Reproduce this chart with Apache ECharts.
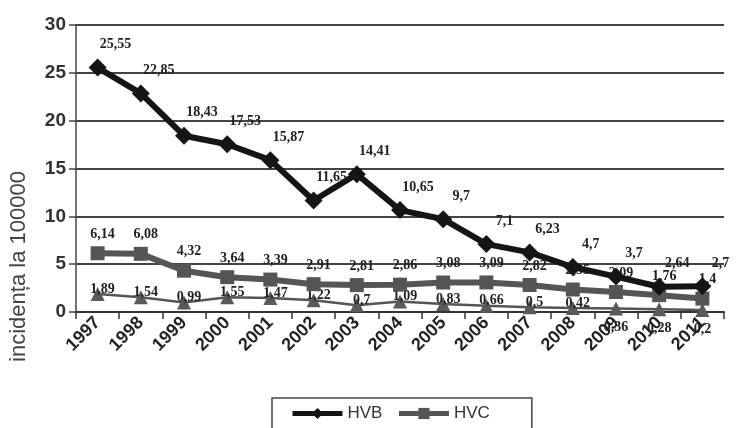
<!DOCTYPE html>
<html>
<head>
<meta charset="utf-8">
<script src="https://cdn.jsdelivr.net/npm/echarts@6/dist/echarts.min.js"></script>
<style>
html,body{margin:0;padding:0;background:#fff;}
#chart{width:737px;height:428px;}
</style>
</head>
<body>
<div id="chart"></div>
<script>
var years = ['1997','1998','1999','2000','2001','2002','2003','2004','2005','2006','2007','2008','2009','2010','2011'];
var hvb = [25.55, 22.85, 18.43, 17.53, 15.87, 11.65, 14.41, 10.65, 9.7, 7.1, 6.23, 4.7, 3.7, 2.64, 2.7];
var hvc = [6.14, 6.08, 4.32, 3.64, 3.39, 2.91, 2.81, 2.86, 3.08, 3.09, 2.82, 2.35, 2.09, 1.76, 1.4];
var hvd = [1.89, 1.54, 0.99, 1.55, 1.47, 1.22, 0.7, 1.09, 0.83, 0.66, 0.5, 0.42, 0.36, 0.28, 0.2];
var yTicks = [0, 5, 10, 15, 20, 25, 30];

function fmt(p){ return String(p.value).replace('.', ','); }
var labelFont = {fontFamily:'Liberation Serif', fontWeight:'bold', fontSize:14, color:'#222'};

var chart = echarts.init(document.getElementById('chart'));
chart.setOption({
  backgroundColor:'#fff',
  animation:false,
  grid:{left:70, right:13, top:25, bottom:116},
  legend:{
    data:['HVB','HVC'],
    left:272, top:398,
    borderColor:'#444', borderWidth:1.5,
    padding:[7,42,10,18],
    itemWidth:50, itemHeight:14, itemGap:14,
    lineStyle:{width:5},
    textStyle:{fontFamily:'Liberation Sans', fontSize:17, color:'#333'}
  },
  xAxis:{
    type:'category', data:years, boundaryGap:true,
    axisLine:{lineStyle:{color:'#333', width:2}},
    axisTick:{show:true, length:7, lineStyle:{color:'#333', width:1.5}},
    axisLabel:{rotate:45, margin:8, fontFamily:'Liberation Sans', fontWeight:'bold', fontSize:18, color:'#222'}
  },
  yAxis:{
    type:'value', min:yTicks[0], max:yTicks[yTicks.length-1], interval:5,
    name:'incidența la 100000', nameLocation:'middle', nameGap:46, nameRotate:90,
    nameTextStyle:{fontFamily:'Liberation Sans', fontSize:22, color:'#444', padding:[0,196,0,0]},
    axisLine:{show:true, lineStyle:{color:'#444', width:1.5}},
    axisTick:{show:true, length:7, lineStyle:{color:'#444', width:1.5}},
    splitLine:{lineStyle:{color:'#444', width:1.8}},
    axisLabel:{margin:10, fontFamily:'Liberation Sans', fontWeight:'bold', fontSize:19, color:'#333'}
  },
  series:[
    {
      name:'HVB', type:'line', data:hvb,
      symbol:'diamond', symbolSize:18,
      lineStyle:{color:'#151515', width:6},
      itemStyle:{color:'#151515'},
      label:Object.assign({show:true, position:'top', offset:[18,-2], formatter:fmt}, labelFont),
      z:5
    },
    {
      name:'HVC', type:'line', data:hvc,
      symbol:'rect', symbolSize:14,
      lineStyle:{color:'#555', width:6},
      itemStyle:{color:'#555'},
      label:Object.assign({show:true, position:'top', offset:[5,0], formatter:fmt}, labelFont),
      z:4
    },
    {
      name:'HVD', type:'line',
      data:hvd.map(function(v,i){ return i >= 12 ? {value:v, label:{position:'bottom', offset:[0,0]}} : v; }),
      symbol:'triangle', symbolSize:14,
      lineStyle:{color:'#555', width:2.5},
      itemStyle:{color:'#5a5a5a'},
      label:Object.assign({show:true, position:'top', offset:[5,14], formatter:fmt}, labelFont),
      z:3
    }
  ]
});
</script>
</body>
</html>
